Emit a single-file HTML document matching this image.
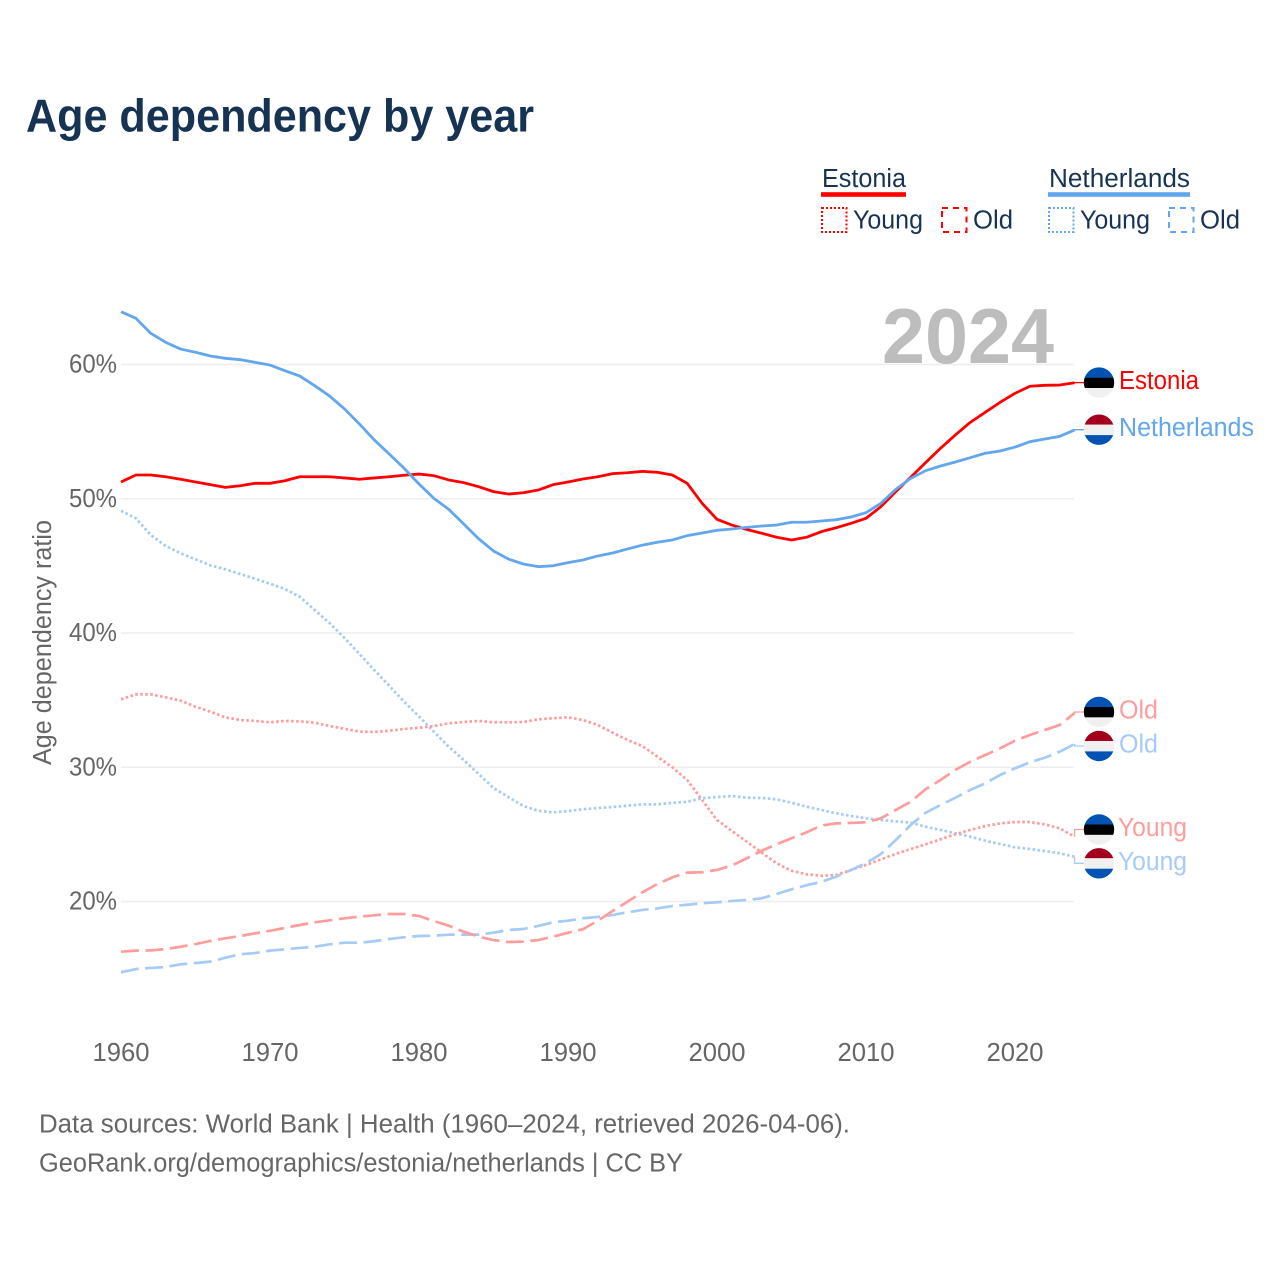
<!DOCTYPE html>
<html lang="en">
<head>
<meta charset="utf-8">
<title>Age dependency by year</title>
<style>
html,body{margin:0;padding:0;background:#fff;width:1280px;height:1280px;overflow:hidden}
svg{display:block}
text{font-family:"Liberation Sans",sans-serif}
</style>
</head>
<body>
<svg id="chart" xmlns="http://www.w3.org/2000/svg" width="1280" height="1280" viewBox="0 0 1280 1280">
  <defs>
    <clipPath id="flag-clip"><circle cx="0" cy="0" r="15.2"/></clipPath>
    <g id="flag-ee" clip-path="url(#flag-clip)">
      <rect x="-16" y="-16" width="32" height="11" fill="#0052b4"/>
      <rect x="-16" y="-5" width="32" height="10.4" fill="#000"/>
      <rect x="-16" y="5.4" width="32" height="11" fill="#f0f0f0"/>
    </g>
    <g id="flag-nl" clip-path="url(#flag-clip)">
      <rect x="-16" y="-16" width="32" height="11" fill="#a2001d"/>
      <rect x="-16" y="-5" width="32" height="10.4" fill="#f0f0f0"/>
      <rect x="-16" y="5.4" width="32" height="11" fill="#0052b4"/>
    </g>
  </defs>

  <text x="26" y="131.5" font-size="46.5" font-weight="700" fill="#173353" textLength="508" lengthAdjust="spacingAndGlyphs">Age dependency by year</text>

  <g font-size="25.5" fill="#173353">
    <text x="822" y="187" textLength="84" lengthAdjust="spacingAndGlyphs">Estonia</text>
    <rect x="821" y="192.2" width="85" height="4.6" fill="#ff0000"/>
    <rect x="822" y="208" width="24.5" height="24" fill="none" stroke="#ff0000" stroke-width="2" stroke-dasharray="2 2"/>
    <text x="853" y="228.5" textLength="70" lengthAdjust="spacingAndGlyphs">Young</text>
    <rect x="942" y="208" width="24.5" height="24" fill="none" stroke="#ff0000" stroke-width="2" stroke-dasharray="6 5"/>
    <text x="973" y="228.5" textLength="40" lengthAdjust="spacingAndGlyphs">Old</text>

    <text x="1049" y="187" textLength="141" lengthAdjust="spacingAndGlyphs">Netherlands</text>
    <rect x="1048" y="192.2" width="142" height="4.6" fill="#62a6ee"/>
    <rect x="1049" y="208" width="24.5" height="24" fill="none" stroke="#62a6ee" stroke-width="2" stroke-dasharray="2 2"/>
    <text x="1080" y="228.5" textLength="70" lengthAdjust="spacingAndGlyphs">Young</text>
    <rect x="1169" y="208" width="24.5" height="24" fill="none" stroke="#62a6ee" stroke-width="2" stroke-dasharray="6 5"/>
    <text x="1200" y="228.5" textLength="40" lengthAdjust="spacingAndGlyphs">Old</text>
  </g>

  <g id="grid"></g>
  <text x="882" y="363" font-size="78" font-weight="700" fill="#bdbdbd" textLength="172" lengthAdjust="spacingAndGlyphs">2024</text>
  <g id="yticks"></g>
  <g id="xticks"></g>
  <text transform="translate(51,765) rotate(-90)" font-size="25.5" fill="#666666" textLength="245" lengthAdjust="spacingAndGlyphs">Age dependency ratio</text>

  <g id="series"></g>

  <g font-size="25.5">
    <use href="#flag-ee" transform="translate(1099,382.6)"/>
    <text x="1119" y="389" fill="#ff0000" textLength="80" lengthAdjust="spacingAndGlyphs">Estonia</text>
    <use href="#flag-nl" transform="translate(1099,429.7)"/>
    <text x="1119" y="436" fill="#62a6ee" textLength="135" lengthAdjust="spacingAndGlyphs">Netherlands</text>
    <use href="#flag-ee" transform="translate(1099,712)"/>
    <text x="1119" y="718.5" fill="#ff9c9c" textLength="39" lengthAdjust="spacingAndGlyphs">Old</text>
    <use href="#flag-nl" transform="translate(1099,746)"/>
    <text x="1119" y="752.5" fill="#a5cbf6" textLength="39" lengthAdjust="spacingAndGlyphs">Old</text>
    <use href="#flag-ee" transform="translate(1099,829.5)"/>
    <text x="1118" y="836" fill="#ff9c9c" textLength="69" lengthAdjust="spacingAndGlyphs">Young</text>
    <use href="#flag-nl" transform="translate(1099,863.3)"/>
    <text x="1118" y="870" fill="#a5cbf6" textLength="69" lengthAdjust="spacingAndGlyphs">Young</text>
  </g>

  <g font-size="25.5" fill="#666666">
    <text x="39" y="1132.5" textLength="811" lengthAdjust="spacingAndGlyphs">Data sources: World Bank | Health (1960–2024, retrieved 2026-04-06).</text>
    <text x="39" y="1171.5" textLength="644" lengthAdjust="spacingAndGlyphs">GeoRank.org/demographics/estonia/netherlands | CC BY</text>
  </g>
</svg>

<script>
const startYear = 1960;
const xTickYears = [1960, 1970, 1980, 1990, 2000, 2010, 2020];
const yTickValues = [20, 30, 40, 50, 60];

const estoniaTotal = [51.25,51.77,51.77,51.64,51.45,51.25,51.05,50.85,50.97,51.15,
  51.15,51.34,51.64,51.64,51.64,51.55,51.45,51.55,51.64,51.75,
  51.84,51.72,51.40,51.20,50.90,50.53,50.35,50.45,50.65,51.05,
  51.25,51.47,51.64,51.87,51.94,52.04,51.97,51.77,51.15,49.66,
  48.47,48.04,47.71,47.43,47.13,46.93,47.13,47.55,47.84,48.17,
  48.54,49.41,50.53,51.60,52.69,53.76,54.75,55.69,56.44,57.18,
  57.85,58.38,58.45,58.47,58.64];

const netherlandsTotal = [63.93,63.44,62.32,61.65,61.15,60.91,60.63,60.46,60.36,60.16,
  59.96,59.54,59.14,58.42,57.65,56.69,55.57,54.38,53.33,52.27,
  51.10,50.03,49.21,48.12,47.02,46.11,45.51,45.14,44.94,45.01,
  45.24,45.44,45.74,45.96,46.26,46.55,46.76,46.93,47.25,47.45,
  47.65,47.75,47.87,47.97,48.04,48.25,48.25,48.34,48.44,48.64,
  48.96,49.66,50.70,51.52,52.09,52.44,52.74,53.06,53.39,53.56,
  53.85,54.25,54.45,54.65,55.12];

const estoniaYoung = [35.06,35.43,35.43,35.21,34.96,34.51,34.14,33.72,33.52,33.45,
  33.35,33.45,33.42,33.32,33.07,32.87,32.65,32.63,32.72,32.85,
  32.94,33.07,33.27,33.37,33.45,33.35,33.35,33.37,33.57,33.65,
  33.72,33.52,33.15,32.57,32.03,31.58,30.79,30.00,29.05,27.56,
  26.07,25.25,24.45,23.64,22.85,22.29,22.03,21.92,21.97,22.35,
  22.72,23.14,23.54,23.91,24.26,24.63,25.01,25.33,25.62,25.82,
  25.92,25.92,25.75,25.45,24.83];

const estoniaOld = [16.26,16.34,16.36,16.46,16.63,16.83,17.06,17.26,17.43,17.63,
  17.82,18.03,18.25,18.45,18.60,18.75,18.87,18.97,19.07,19.07,
  18.92,18.55,18.20,17.75,17.38,17.13,16.98,17.01,17.13,17.38,
  17.68,17.93,18.57,19.29,19.99,20.69,21.30,21.80,22.15,22.18,
  22.35,22.68,23.22,23.78,24.26,24.71,25.15,25.65,25.82,25.85,
  25.90,26.20,26.82,27.43,28.36,29.05,29.80,30.41,30.91,31.41,
  31.98,32.40,32.77,33.15,34.04];

const netherlandsYoung = [49.11,48.54,47.30,46.48,45.94,45.49,45.04,44.75,44.39,44.04,
  43.67,43.28,42.70,41.71,40.74,39.63,38.44,37.24,36.07,34.88,
  33.78,32.65,31.53,30.54,29.50,28.45,27.78,27.11,26.76,26.64,
  26.74,26.87,26.96,27.04,27.14,27.24,27.24,27.34,27.43,27.69,
  27.78,27.86,27.73,27.71,27.61,27.36,27.06,26.82,26.57,26.37,
  26.20,26.07,25.97,25.87,25.57,25.33,25.08,24.83,24.53,24.28,
  24.04,23.91,23.76,23.59,23.34];

const netherlandsOld = [14.73,14.97,15.05,15.12,15.32,15.42,15.52,15.81,16.07,16.16,
  16.34,16.44,16.54,16.63,16.81,16.93,16.93,17.04,17.21,17.33,
  17.43,17.45,17.53,17.53,17.53,17.68,17.88,17.95,18.18,18.45,
  18.57,18.75,18.85,18.99,19.20,19.37,19.49,19.66,19.76,19.87,
  19.94,20.04,20.11,20.24,20.56,20.91,21.21,21.47,21.85,22.35,
  22.85,23.54,24.58,25.70,26.61,27.19,27.73,28.31,28.80,29.42,
  29.92,30.37,30.71,31.16,31.73];

const SVGNS = 'http://www.w3.org/2000/svg';
function xScale(year) { return 121 + (year - 1960) * 14.9; }
function yScale(value) { return 901.5 - (value - 20) * 13.425; }

const gridGroup = document.getElementById('grid');
const yTickGroup = document.getElementById('yticks');
const xTickGroup = document.getElementById('xticks');
const seriesGroup = document.getElementById('series');

yTickValues.forEach(function (v) {
  const line = document.createElementNS(SVGNS, 'line');
  line.setAttribute('x1', 121);
  line.setAttribute('x2', 1074);
  line.setAttribute('y1', yScale(v));
  line.setAttribute('y2', yScale(v));
  line.setAttribute('stroke', '#eeeeee');
  line.setAttribute('stroke-width', 1.6);
  
  
  gridGroup.appendChild(line);

  const label = document.createElementNS(SVGNS, 'text');
  label.setAttribute('x', 69);
  label.setAttribute('y', yScale(v) + 8);
  label.setAttribute('font-size', 25.5);
  label.setAttribute('fill', '#666666');
  label.setAttribute('textLength', 48);
  label.setAttribute('lengthAdjust', 'spacingAndGlyphs');
  label.textContent = v + '%';
  
  
  yTickGroup.appendChild(label);
});

xTickYears.forEach(function (yr) {
  const label = document.createElementNS(SVGNS, 'text');
  label.setAttribute('x', xScale(yr) - 28.5);
  label.setAttribute('y', 1061);
  label.setAttribute('font-size', 25.5);
  label.setAttribute('fill', '#666666');
  label.setAttribute('textLength', 57);
  label.setAttribute('lengthAdjust', 'spacingAndGlyphs');
  label.textContent = String(yr);
  
  
  xTickGroup.appendChild(label);
});

function linePath(values) {
  return values.map(function (v, i) {
    return (i ? 'L' : 'M') + xScale(startYear + i).toFixed(2) + ' ' + yScale(v).toFixed(2);
  }).join('');
}

function drawConnector(values, flagY, color) {
  const ex = xScale(startYear + values.length - 1);
  const path = document.createElementNS(SVGNS, 'path');
  path.setAttribute('d', 'M' + ex + ' ' + yScale(values[values.length - 1]).toFixed(2) + 'V' + flagY + 'H1084');
  path.setAttribute('fill', 'none');
  path.setAttribute('stroke', color);
  path.setAttribute('stroke-width', 1.3);
  
  
  seriesGroup.appendChild(path);
}

function drawLine(values, color, width, dash, name) {
  const path = document.createElementNS(SVGNS, 'path');
  path.setAttribute('d', linePath(values));
  path.setAttribute('fill', 'none');
  path.setAttribute('stroke', color);
  path.setAttribute('stroke-width', width);
  path.setAttribute('stroke-linejoin', 'round');
  if (dash) path.setAttribute('stroke-dasharray', dash);
  
  
  seriesGroup.appendChild(path);
}

const DOTTED = '2.6 2.4';
const DASHED = '18 6.5';
drawLine(netherlandsYoung, '#a5cbf6', 2.7, DOTTED, 'line-netherlands-young');
drawConnector(netherlandsYoung, 863.3, '#a5cbf6');
drawLine(estoniaYoung, '#ff9c9c', 2.7, DOTTED, 'line-estonia-young');
drawConnector(estoniaYoung, 829.5, '#ff9c9c');
drawLine(netherlandsOld, '#a5cbf6', 2.7, DASHED, 'line-netherlands-old');
drawConnector(netherlandsOld, 746, '#a5cbf6');
drawLine(estoniaOld, '#ff9c9c', 2.7, DASHED, 'line-estonia-old');
drawConnector(estoniaOld, 712, '#ff9c9c');
drawLine(estoniaTotal, '#ff0000', 2.8, null, 'line-estonia-total');
drawConnector(estoniaTotal, 382.6, '#ff0000');
drawLine(netherlandsTotal, '#62a6ee', 2.8, null, 'line-netherlands-total');
drawConnector(netherlandsTotal, 429.7, '#62a6ee');
</script>
</body>
</html>
